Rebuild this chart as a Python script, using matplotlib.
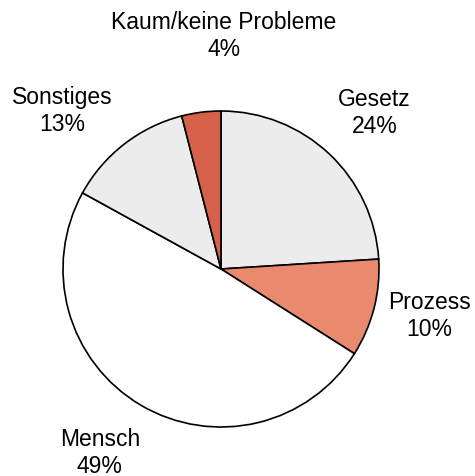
import matplotlib
import numpy as np

matplotlib.use("Agg")
import matplotlib.pyplot as plt


LABELS = ["Gesetz", "Prozess", "Mensch", "Sonstiges", "Kaum/keine Probleme"]
SHARES = [24, 10, 49, 13, 4]
COLORS = ["#ececec", "#e98a6f", "#ffffff", "#ececec", "#d5614b"]

# label centres in units of the pie radius (polar angle in degrees, distance)
LABEL_ANGLES = [45.6, -12.5, -123.5, 135.0, 89.3]
LABEL_DIST = [1.39, 1.35, 1.39, 1.42, 1.48]

plt.rcParams["font.family"] = ["Liberation Sans", "DejaVu Sans"]

figure = plt.figure(figsize=(4.75, 4.77), dpi=100)
axis = figure.add_axes([0.1326, 0.1027, 0.6653, 0.6625])

axis.pie(
    SHARES,
    colors=COLORS,
    startangle=90,
    counterclock=False,
    radius=1.0,
    wedgeprops={"edgecolor": "black", "linewidth": 1.2},
)

for name, share, ang, dist in zip(LABELS, SHARES, LABEL_ANGLES, LABEL_DIST):
    rad = np.deg2rad(ang)
    axis.text(
        dist * np.cos(rad),
        dist * np.sin(rad),
        f"{name}\n{share}%",
        ha="center",
        va="center",
        fontsize=16.5,
        linespacing=1.22,
        clip_on=False,
    )

axis.set_xlim(-1, 1)
axis.set_ylim(-1, 1)
axis.set_aspect("equal")
axis.axis("off")

figure.savefig("out.png", dpi=100, facecolor="white")
plt.close(figure)
